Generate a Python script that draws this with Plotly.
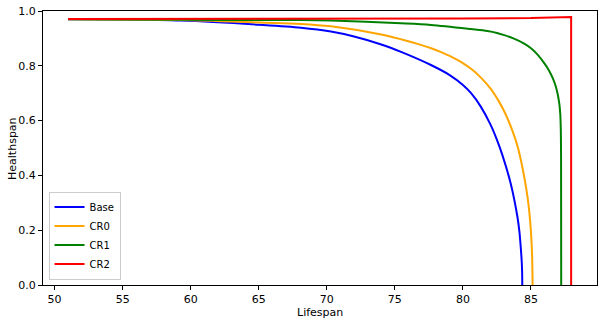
import plotly.graph_objects as go

base_x = [51, 55, 59.3, 65, 68.1, 70.3, 72, 74.0, 75.5, 77.65, 79.0, 80.0, 80.6, 81.3, 82.0, 82.5, 82.9, 83.5, 84.0, 84.15, 84.26, 84.32, 84.35, 84.36]
base_y = [0.970, 0.969, 0.965, 0.950, 0.939, 0.925, 0.907, 0.878, 0.850, 0.803, 0.767, 0.730, 0.700, 0.652, 0.588, 0.530, 0.474, 0.372, 0.250, 0.195, 0.130, 0.085, 0.045, 0.0]

cr0_x = [51, 59.3, 65, 68.1, 70.3, 74.0, 75.5, 76.6, 77.62, 78.4, 79.02, 80.02, 80.62, 81.32, 82.06, 82.62, 83.12, 83.62, 84.02, 84.26, 84.52, 84.75, 84.87, 84.99, 85.08, 85.12]
cr0_y = [0.970, 0.967, 0.958, 0.953, 0.944, 0.914, 0.896, 0.881, 0.865, 0.850, 0.836, 0.809, 0.788, 0.757, 0.715, 0.672, 0.625, 0.565, 0.505, 0.455, 0.390, 0.320, 0.270, 0.200, 0.110, 0.0]

cr1_x = [51, 59.3, 65, 68.1, 70.3, 75.44, 77.65, 80.6, 81.8, 82.5, 83.04, 83.75, 84.5, 85.0, 85.5, 86.0, 86.3, 86.6, 86.8, 86.96, 87.08, 87.15, 87.19, 87.21, 87.22]
cr1_y = [0.970, 0.968, 0.967, 0.967, 0.965, 0.955, 0.949, 0.934, 0.927, 0.920, 0.912, 0.899, 0.881, 0.864, 0.840, 0.808, 0.785, 0.755, 0.728, 0.697, 0.662, 0.625, 0.570, 0.470, 0.0]

cr2_x = [51, 60, 70, 80, 85, 87, 87.6, 87.95, 87.95]
cr2_y = [0.971, 0.971, 0.972, 0.973, 0.974, 0.976, 0.977, 0.978, 0.0]

series = [
    ("Base", base_x, base_y, "blue", "spline"),
    ("CR0", cr0_x, cr0_y, "orange", "spline"),
    ("CR1", cr1_x, cr1_y, "green", "spline"),
    ("CR2", cr2_x, cr2_y, "red", "linear"),
]

x_ticks = [50, 55, 60, 65, 70, 75, 80, 85]
y_ticks = [0.0, 0.2, 0.4, 0.6, 0.8, 1.0]

fig = go.Figure()
for name, xs, ys, color, shape in series:
    line = dict(color=color, width=2, shape=shape)
    if shape == "spline":
        line["smoothing"] = 0.9
    fig.add_trace(go.Scatter(x=xs, y=ys, mode="lines", name=name, line=line))

axis_common = dict(showline=True, linecolor="black", linewidth=1, mirror=True,
                   ticks="outside", ticklen=4, tickcolor="black", showgrid=False,
                   zeroline=False, tickfont=dict(size=11, color="black"))

fig.update_layout(
    width=602, height=322,
    margin=dict(l=43, r=5, t=11, b=37),
    paper_bgcolor="white", plot_bgcolor="white",
    font=dict(family="DejaVu Sans", size=11, color="black"),
    xaxis=dict(range=[49.15, 89.85], tickvals=x_ticks, **axis_common),
    yaxis=dict(range=[0, 1], tickvals=y_ticks, tickformat=".1f", **axis_common),
    legend=dict(x=0.01, y=0.02, xanchor="left", yanchor="bottom",
                bgcolor="rgba(255,255,255,0.8)", bordercolor="#cccccc", borderwidth=1,
                font=dict(size=10), itemwidth=30, tracegroupgap=0),
    showlegend=True,
    annotations=[
        dict(text="Lifespan", xref="paper", yref="paper", x=0.5, y=-0.071,
             xanchor="center", yanchor="top", showarrow=False, font=dict(size=11)),
        dict(text="Healthspan", xref="paper", yref="paper", x=-0.056, y=0.5,
             xanchor="center", yanchor="middle", textangle=-90, showarrow=False,
             font=dict(size=11)),
    ],
)

fig.write_html("out.html", config={"displayModeBar": False},
               post_script="document.body.style.margin='0';document.body.style.overflow='hidden';")
